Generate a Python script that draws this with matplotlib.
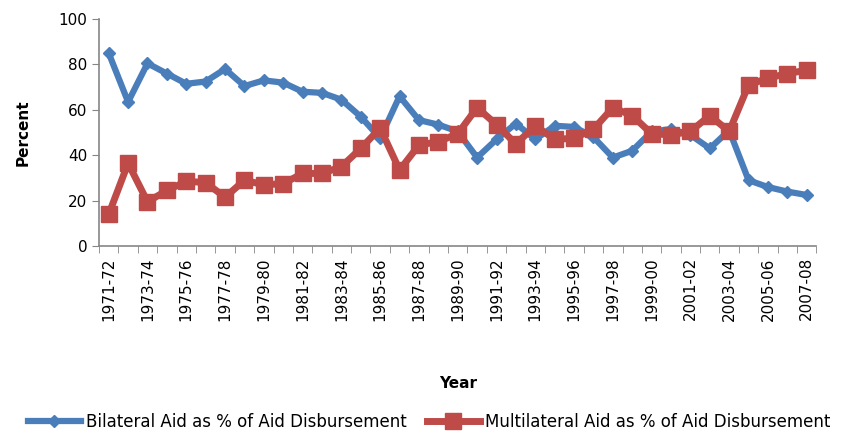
import matplotlib.pyplot as plt
import numpy as np

# datos
years = [f"{y}-{str(y + 1)[-2:]}" for y in range(1971, 2008)]
bilateral = [85, 63.5, 80.5, 76, 71.5, 72.5, 78, 70.5, 73, 72, 68, 67.5,
             64.5, 57, 47.5, 66, 55.5, 53.5, 50.5, 39, 47, 54, 47, 53,
             52.5, 48, 39, 42, 50.5, 51.5, 49, 43, 51, 29, 26, 24, 22.5]
multilateral = [14, 36.5, 19.5, 24.5, 28.5, 28, 21.5, 29, 27, 27.5, 32, 32,
                35, 43, 52, 33.5, 44.5, 46, 49.5, 61, 53.5, 45, 53, 47,
                47.5, 51.5, 61, 57.5, 49.5, 49, 50.5, 57.5, 50.5, 71, 74, 76, 77.5]

blue = "#4A7EBB"
red = "#BE4B48"

fig = plt.figure(figsize=(8.5, 4.34), dpi=100)
ax = fig.add_axes([0.1165, 0.433, 0.844, 0.523])

x = np.arange(len(years))
ax.plot(x, bilateral, color=blue, lw=4.5, marker="D", ms=6, mec=blue, mfc=blue,
        label="Bilateral Aid as % of Aid Disbursement")
ax.plot(x, multilateral, color=red, lw=5, marker="s", ms=11, mec=red, mfc=red,
        label="Multilateral Aid as % of Aid Disbursement")

ax.set_xlim(-0.5, len(years) - 0.5)
ax.set_ylim(0, 100)
ax.set_yticks(range(0, 101, 20))
ax.set_xticks(x[::2])
ax.set_xticklabels(years[::2], rotation=90)
ax.set_xticks(np.arange(-0.5, len(years)), minor=True)
ax.tick_params(axis="x", which="major", length=0, labelsize=11, pad=8)
ax.tick_params(axis="x", which="minor", length=5, color="#868686")
ax.tick_params(axis="y", length=5, color="#868686", labelsize=11)

for s in ["top", "right"]:
    ax.spines[s].set_visible(False)
for s in ["left", "bottom"]:
    ax.spines[s].set_color("#868686")
    ax.spines[s].set_linewidth(1.2)

ax.set_ylabel("Percent", fontweight="bold", fontsize=11, labelpad=20)
ax.set_xlabel("Year", fontweight="bold", fontsize=11, labelpad=40)

ax.legend(loc="upper center", bbox_to_anchor=(0.46, -0.67), ncol=2, frameon=False,
          fontsize=12, handlelength=3.2, columnspacing=1.2, handletextpad=0.3)

fig.savefig("out.png", dpi=100)
